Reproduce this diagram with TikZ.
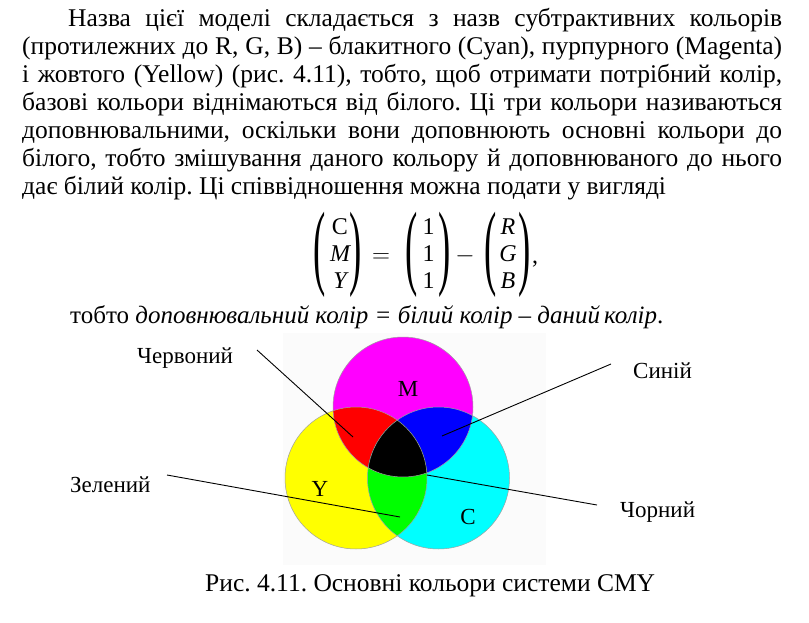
\documentclass[tikz,border=0pt]{standalone}
\usepackage{fontspec}
\setmainfont{Liberation Serif}
\definecolor{boxbg}{RGB}{251,251,251}
\definecolor{rimgray}{RGB}{160,160,160}
\definecolor{pY}{RGB}{255,255,0}
\definecolor{pC}{RGB}{0,255,255}
\definecolor{pM}{RGB}{255,0,255}
\definecolor{pR}{RGB}{255,0,0}
\definecolor{pG}{RGB}{0,255,0}
\definecolor{pB}{RGB}{0,0,255}
\begin{document}
\frenchspacing
\begin{tikzpicture}[x=1pt,y=-1pt,
  bodytext/.style={anchor=base west, inner sep=0pt, font=\fontsize{25.5}{28}\selectfont},
  figlabel/.style={anchor=base west, inner sep=0pt, font=\fontsize{23}{26}\selectfont},
  setletter/.style={inner sep=0pt, font=\fontsize{23}{26}\selectfont},
  leader/.style={draw=black, line width=0.9pt},
  rim/.style={draw=rimgray, line width=0.5pt},
  eqsym/.style={anchor=base, inner sep=0pt, font=\fontsize{24}{27}\selectfont},
  eqparen/.style={inner sep=0pt, font=\fontsize{23}{27}\selectfont}]
\fill[white] (0,0) rectangle (809,623);
\useasboundingbox (0,0) rectangle (809,623);

% paragraph
\node[bodytext] (l1) at (68,27)  {\makebox[714pt][s]{Назва цієї моделі складається з назв субтрактивних кольорів}};
\node[bodytext] (l2) at (22,55)  {\makebox[760pt][s]{(протилежних до R, G, B) – блакитного (Cyan), пурпурного (Magenta)}};
\node[bodytext] (l3) at (22,83)  {\makebox[760pt][s]{і жовтого (Yellow) (рис. 4.11), тобто, щоб отримати потрібний колір,}};
\node[bodytext] (l4) at (22,111) {\makebox[760pt][s]{базові кольори віднімаються від білого. Ці три кольори називаються}};
\node[bodytext] (l5) at (22,139) {\makebox[760pt][s]{доповнювальними, оскільки вони доповнюють основні кольори до}};
\node[bodytext] (l6) at (22,167) {\makebox[760pt][s]{білого, тобто змішування даного кольору й доповнюваного до нього}};
\node[bodytext] (l7) at (22,195) {дає білий колір. Ці співвідношення можна подати у вигляді};

% equation
\node[eqparen] (pL1) at (320,254.5) {\scalebox{1.6}[4.1]{(}};
\node[eqparen] (pR1) at (356,254.5) {\scalebox{1.6}[4.1]{)}};
\node[eqsym] (e11) at (340,234) {C};
\node[eqsym] (e12) at (340,261) {\itshape M};
\node[eqsym] (e13) at (340,288) {\itshape Y};
\node[eqsym] (eqs) at (381,262) {$=$};
\node[eqparen] (pL2) at (412,254.5) {\scalebox{1.6}[4.1]{(}};
\node[eqparen] (pR2) at (445,254.5) {\scalebox{1.6}[4.1]{)}};
\node[eqsym] (e21) at (428.5,234) {1};
\node[eqsym] (e22) at (428.5,261) {1};
\node[eqsym] (e23) at (428.5,288) {1};
\node[eqsym] (mns) at (465,262) {$-$};
\node[eqparen] (pL3) at (491,254.5) {\scalebox{1.6}[4.1]{(}};
\node[eqparen] (pR3) at (525,254.5) {\scalebox{1.6}[4.1]{)}};
\node[eqsym] (e31) at (508,234) {\itshape R};
\node[eqsym] (e32) at (508,261) {\itshape G};
\node[eqsym] (e33) at (508,288) {\itshape B};
\node[eqsym] (cma) at (535,263) {,};

\node[bodytext, font=\fontsize{25}{28}\selectfont] (l8) at (70,323) {тобто \textit{доповнювальний колір = білий колір – даний\,колір}.};

% diagram
\fill[boxbg] (283,333) rectangle (546,565);
\coordinate (Yc) at (356,478);
\coordinate (Cc) at (438.5,478);
\coordinate (Mc) at (403,407);
\fill[pY] (Yc) circle[radius=71pt];
\fill[pC] (Cc) circle[radius=71pt];
\fill[pM] (Mc) circle[radius=70pt];
\begin{scope}
  \clip (Yc) circle[radius=71pt];
  \fill[pR] (Mc) circle[radius=70pt];
\end{scope}
\begin{scope}
  \clip (Mc) circle[radius=70pt];
  \fill[pB] (Cc) circle[radius=71pt];
\end{scope}
\begin{scope}
  \clip (Yc) circle[radius=71pt];
  \fill[pG] (Cc) circle[radius=71pt];
\end{scope}
\begin{scope}
  \clip (Yc) circle[radius=71pt];
  \clip (Mc) circle[radius=70pt];
  \fill[black] (Cc) circle[radius=71pt];
\end{scope}
\draw[rim] (Yc) circle[radius=71pt];
\draw[rim] (Cc) circle[radius=71pt];
\draw[rim] (Mc) circle[radius=70pt];

\node[setletter] (M) at (408,389) {M};
\node[setletter] (Y) at (320,489) {Y};
\node[setletter] (C) at (468,517) {C};

% labels and leaders
\node[figlabel] (red) at (137,363) {Червоний};
\node[figlabel] (blu) at (633,378) {Синій};
\node[figlabel] (grn) at (70,492) {Зелений};
\node[figlabel] (blk) at (620,517) {Чорний};
\coordinate (redA) at (257,350);
\coordinate (redB) at (353,437);
\coordinate (bluA) at (611,364);
\coordinate (bluB) at (442,436);
\coordinate (grnA) at (167,475);
\coordinate (grnB) at (400,517);
\coordinate (blkA) at (427,475);
\coordinate (blkB) at (597,505);
\draw[leader] (redA) -- (redB);
\draw[leader] (bluA) -- (bluB);
\draw[leader] (grnA) -- (grnB);
\draw[leader] (blkA) -- (blkB);

\node[bodytext] (cap) at (205,591) {Рис. 4.11. Основні кольори системи CMY};
\end{tikzpicture}
\end{document}
